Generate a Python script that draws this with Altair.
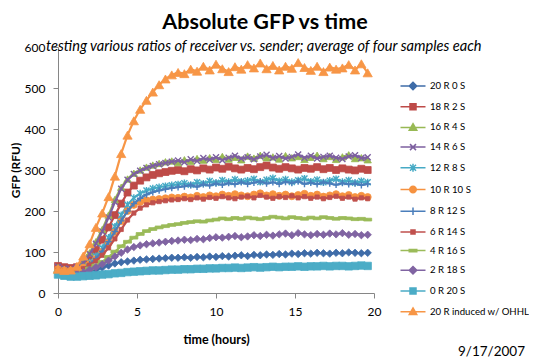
import altair as alt
import pandas as pd

# ---------------- data ----------------
times = [0.0, 0.4, 0.8, 1.2, 1.6, 2.0, 2.4, 2.8, 3.2, 3.6,
         4.0, 4.4, 4.8, 5.2, 5.6, 6.0, 6.4, 6.8, 7.2, 7.6,
         8.0, 8.4, 8.8, 9.2, 9.6, 10.0, 10.4, 10.8, 11.2, 11.6,
         12.0, 12.4, 12.8, 13.2, 13.6, 14.0, 14.4, 14.8, 15.2, 15.6,
         16.0, 16.4, 16.8, 17.2, 17.6, 18.0, 18.4, 18.8, 19.2, 19.6]

series_names = ["20 R 0 S", "18 R 2 S", "16 R 4 S", "14 R 6 S", "12 R 8 S", "10 R 10 S",
                "8 R 12 S", "6 R 14 S", "4 R 16 S", "2 R 18 S", "0 R 20 S",
                "20 R induced w/ OHHL"]

gfp_20r_0s = [52, 50, 48, 48, 50, 53, 57, 62, 67, 72, 75, 77, 79, 81, 82, 83, 84, 85, 86, 86,
              87, 86, 88, 87, 89, 88, 90, 89, 91, 92, 90, 93, 92, 94, 93,
              95, 94, 96, 95, 97, 96, 98, 97, 96, 98, 97, 99, 98, 97, 98]
gfp_18r_2s = [66, 63, 61, 63, 70, 85, 105, 130, 160, 190, 218, 245, 262, 274, 282, 288, 292, 295, 298, 300,
              297, 302, 299, 304, 301, 306, 303, 308, 304, 301, 305, 302, 307, 311, 306,
              303, 307, 304, 301, 305, 303, 307, 302, 305, 300, 304, 301, 299, 303, 300]
gfp_16r_4s = [62, 58, 57, 62, 74, 98, 125, 155, 190, 228, 258, 278, 292, 300, 307, 312, 316, 320, 322, 318,
              325, 321, 328, 324, 330, 326, 333, 327, 331, 325, 334, 329, 336, 330, 332,
              327, 335, 330, 333, 326, 331, 336, 328, 333, 326, 332, 337, 328, 330, 325]
gfp_14r_6s = [64, 60, 58, 62, 73, 95, 120, 150, 184, 222, 254, 276, 290, 298, 305, 310, 314, 317, 320, 323,
              319, 326, 322, 329, 325, 331, 324, 330, 335, 328, 331, 326, 333, 337, 329,
              334, 328, 332, 338, 330, 335, 328, 332, 335, 330, 327, 333, 336, 329, 331]
gfp_12r_8s = [55, 52, 51, 54, 62, 75, 90, 110, 135, 162, 190, 215, 232, 243, 250, 255, 258, 261, 263, 265,
              268, 264, 270, 267, 273, 269, 275, 271, 277, 272, 274, 278, 271, 276, 280,
              273, 277, 271, 275, 279, 272, 276, 270, 274, 278, 271, 275, 269, 273, 270]
gfp_10r_10s = [58, 55, 54, 56, 62, 70, 82, 100, 122, 148, 175, 200, 215, 222, 226, 228, 229, 231, 233, 232,
               235, 233, 237, 234, 238, 236, 240, 237, 241, 238, 236, 240, 243, 238, 241,
               237, 240, 236, 239, 242, 237, 240, 235, 238, 241, 236, 239, 234, 237, 234]
gfp_8r_12s = [52, 50, 49, 51, 58, 70, 84, 102, 125, 150, 176, 200, 218, 231, 240, 246, 250, 253, 256, 258,
              260, 263, 259, 265, 262, 267, 264, 268, 265, 270, 266, 269, 272, 267, 270,
              266, 271, 268, 272, 266, 269, 265, 270, 267, 264, 268, 265, 267, 263, 266]
gfp_6r_14s = [56, 53, 52, 54, 59, 68, 78, 92, 110, 132, 155, 178, 195, 207, 215, 220, 223, 225, 227, 228,
              230, 228, 232, 229, 233, 231, 235, 232, 230, 234, 236, 232, 238, 234, 231,
              235, 233, 237, 232, 235, 231, 234, 230, 233, 236, 231, 234, 229, 232, 230]
gfp_4r_16s = [50, 48, 47, 49, 53, 60, 67, 76, 88, 101, 114, 125, 135, 144, 151, 156, 160, 163, 166, 168,
              171, 173, 175, 174, 177, 179, 182, 180, 183, 181, 184, 182, 180, 183, 186,
              184, 182, 185, 183, 181, 184, 182, 185, 183, 181, 183, 182, 180, 181, 179]
gfp_2r_18s = [48, 46, 45, 47, 51, 57, 63, 70, 79, 89, 98, 106, 112, 116, 119, 121, 123, 125, 127, 128,
              130, 129, 132, 131, 134, 136, 135, 137, 139, 136, 138, 141, 139, 142, 140,
              143, 145, 141, 146, 143, 141, 144, 142, 145, 143, 146, 142, 144, 141, 142]
gfp_0r_20s = [45, 42, 40, 40, 41, 42, 43, 45, 46, 48, 49, 51, 52, 53, 54, 55, 55, 56, 57, 57,
              58, 58, 59, 59, 60, 60, 61, 61, 62, 61, 62, 63, 62, 63, 64,
              63, 64, 64, 65, 64, 65, 65, 66, 65, 66, 66, 65, 66, 67, 66]
gfp_20r_ohhl = [58, 55, 56, 65, 90, 120, 160, 195, 235, 285, 340, 385, 420, 448, 470, 490, 508, 522, 532, 538,
                535, 546, 541, 553, 544, 558, 547, 540, 552, 546, 557, 549, 561, 547, 555,
                544, 553, 548, 562, 550, 543, 553, 540, 551, 546, 549, 557, 544, 559, 537]

series_values = [gfp_20r_0s, gfp_18r_2s, gfp_16r_4s, gfp_14r_6s, gfp_12r_8s, gfp_10r_10s,
                 gfp_8r_12s, gfp_6r_14s, gfp_4r_16s, gfp_2r_18s, gfp_0r_20s, gfp_20r_ohhl]

chart_title = "Absolute GFP vs time"
chart_subtitle = "testing various ratios of receiver vs. sender; average of four samples each"
date_text = "9/17/2007"
x_ticks = [0, 5, 10, 15, 20]
y_ticks = [0, 100, 200, 300, 400, 500, 600]

# ---------------- styles ----------------
colors = ["#3F6CA8", "#BE4B48", "#98B954", "#7D60A0", "#46AAC5", "#F69240",
          "#4A7EBB", "#C0504D", "#9BBB59", "#8064A2", "#4BACC6", "#F79646"]

X_PATH = "M-1,-1L1,1M-1,1L1,-1"
AST_PATH = "M-1,-1L1,1M-1,1L1,-1M0,-1.2L0,1.2"
PLUS_PATH = "M0,-1L0,1M-1,0L1,0"
DASH_PATH = "M-1,-0.35L1,-0.35L1,0.35L-1,0.35Z"
point_shapes = ["diamond", "square", "triangle-up", X_PATH, AST_PATH, "circle",
                PLUS_PATH, "square", DASH_PATH, "diamond", "square", "triangle-up"]
point_filled = [True, True, True, False, False, True, False, True, True, True, True, True]
point_sizes = [55, 48, 55, 12, 12, 50, 14, 18, 64, 55, 55, 85]

LINE = "M-2.5,0L2.5,0"
legend_paths = [
    LINE + "M0,-0.75L0.75,0L0,0.75L-0.75,0Z",
    LINE + "M-0.6,-0.6L0.6,-0.6L0.6,0.6L-0.6,0.6Z",
    LINE + "M0,-0.75L0.75,0.55L-0.75,0.55Z",
    LINE + "M-0.6,-0.6L0.6,0.6M-0.6,0.6L0.6,-0.6",
    LINE + "M-0.6,-0.6L0.6,0.6M-0.6,0.6L0.6,-0.6M0,-0.8L0,0.8",
    LINE + "M-0.65,0A0.65,0.65,0,1,0,0.65,0A0.65,0.65,0,1,0,-0.65,0Z",
    LINE + "M0,-0.75L0,0.75",
    LINE + "M-0.4,-0.4L0.4,-0.4L0.4,0.4L-0.4,0.4Z",
    LINE + "M-0.75,-0.22L0.75,-0.22L0.75,0.22L-0.75,0.22Z",
    LINE + "M0,-0.75L0.75,0L0,0.75L-0.75,0Z",
    LINE + "M-0.6,-0.6L0.6,-0.6L0.6,0.6L-0.6,0.6Z",
    LINE + "M0,-0.75L0.75,0.55L-0.75,0.55Z",
]
legend_fills = [c if f else "transparent" for c, f in zip(colors, point_filled)]

FONT = "Lato"
AXIS_GRAY = "#868686"

x_axis = alt.Axis(values=x_ticks, title="time (hours)", grid=False, format="d",
                  domainColor=AXIS_GRAY, tickColor=AXIS_GRAY, tickSize=5,
                  labelFont=FONT, labelFontSize=12, labelColor="black", labelPadding=8,
                  labelFlush=False, titleFont=FONT, titleFontSize=12.5,
                  titleFontWeight="bold", titleColor="black",
                  titleX=158, titleY=46, titleAlign="center", titleBaseline="middle")
y_axis = alt.Axis(values=y_ticks, title="GFP (RFU)", grid=False, format="d",
                  domainColor=AXIS_GRAY, tickColor=AXIS_GRAY, tickSize=5,
                  labelFont=FONT, labelFontSize=12, labelColor="black", labelPadding=8,
                  labelFlush=False, titleFont=FONT, titleFontSize=12,
                  titleFontWeight="bold", titleColor="black",
                  titleX=-43, titleY=123, titleAlign="center", titleBaseline="middle")

x_enc = alt.X("t:Q", scale=alt.Scale(domain=[0, 20], nice=False, zero=False), axis=x_axis)
y_enc = alt.Y("v:Q", scale=alt.Scale(domain=[0, 600], nice=False), axis=y_axis)

layers = []
for i, name in enumerate(series_names):
    d = pd.DataFrame({"t": times, "v": series_values[i], "series": name})
    base = alt.Chart(d).encode(x=x_enc, y=y_enc)
    layers.append(base.mark_line(color=colors[i], strokeWidth=2.2))
    if point_filled[i]:
        pt = base.mark_point(shape=point_shapes[i], filled=True, color=colors[i],
                             size=point_sizes[i], opacity=1, strokeWidth=0.8,
                             stroke=colors[i])
    else:
        pt = base.mark_point(shape=point_shapes[i], filled=False, color=colors[i],
                             size=point_sizes[i] * 3, opacity=1, strokeWidth=1.4)
    layers.append(pt)

# texts
title_layer = alt.Chart(pd.DataFrame({"text": [chart_title]})).mark_text(
    font=FONT, fontSize=21.5, fontWeight="bold", align="center", baseline="alphabetic",
    color="black").encode(text="text:N", x=alt.value(207), y=alt.value(-18))
subtitle_layer = alt.Chart(pd.DataFrame({"text": [chart_subtitle]})).mark_text(
    font=FONT, fontSize=14.6, fontStyle="italic", align="left", baseline="alphabetic",
    color="black").encode(text="text:N", x=alt.value(-12), y=alt.value(4))
date_layer = alt.Chart(pd.DataFrame({"text": [date_text]})).mark_text(
    font=FONT, fontSize=13.5, align="right", baseline="alphabetic",
    color="black").encode(text="text:N", x=alt.value(467), y=alt.value(309))
layers += [title_layer, subtitle_layer, date_layer]

# legend (no visible marks, legend only)
leg = alt.Legend(title=None, orient="none", legendX=349, legendY=33, symbolSize=100,
                 symbolStrokeWidth=1.5, labelFont=FONT, labelFontSize=9.6,
                 labelColor="black", labelOffset=11, rowPadding=7.7, labelLimit=200,
                 symbolOpacity=1)
legend_df = pd.DataFrame({"series": series_names, "t": [None] * 12, "v": [None] * 12})
legend_layer = alt.Chart(legend_df).mark_point(size=100, strokeWidth=1.5, opacity=1, filled=True).encode(
    x=x_enc, y=y_enc,
    shape=alt.Shape("series:N", scale=alt.Scale(domain=series_names, range=legend_paths), legend=leg),
    fill=alt.Fill("series:N", scale=alt.Scale(domain=series_names, range=legend_fills), legend=leg),
    stroke=alt.Stroke("series:N", scale=alt.Scale(domain=series_names, range=colors), legend=leg),
)
layers.append(legend_layer)

chart = alt.layer(*layers).properties(
    width=316, height=246,
    padding={"left": 50, "top": 39, "right": 155, "bottom": 65},
    autosize=alt.AutoSizeParams(type="none"),
).configure_view(strokeWidth=0)

chart.save("out.html", embed_options={"renderer": "svg", "actions": False})
